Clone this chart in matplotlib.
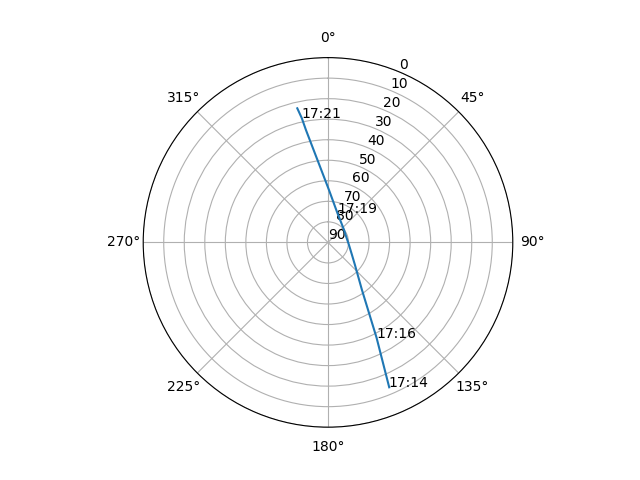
import numpy as np
import matplotlib
matplotlib.use("Agg")
import matplotlib.pyplot as plt

# pass track: azimuth (deg) and elevation (deg)
track_az = [157.1, 153.0, 144.5, 129.9, 117.7, 97.1, 75.2, 52.2, 30.3, 18.1, 1.1, 348.9, 348.1, 347.1]
track_el = [13.4, 37.9, 61.5, 72.9, 76.8, 79.7, 80.7, 80.1, 77.9, 75.1, 64.5, 34.2, 28.2, 23.0]

# time labels along the pass
label_times = ["17:14", "17:16", "17:19", "17:21"]
label_az = [157.3, 153.2, 18.1, 348.1]
label_el = [13.5, 38.0, 75.1, 28.2]

fig = plt.figure(figsize=(6.4, 4.8), dpi=100)
ax = fig.add_subplot(111, projection="polar")
ax.set_theta_zero_location("N")
ax.set_theta_direction(-1)

theta = np.radians(track_az)
r = 90 - np.array(track_el)
ax.plot(theta, r)

for t, az, el in zip(label_times, label_az, label_el):
    ax.text(np.radians(az), 90 - el, t)

ax.set_rlim(0, 90)
ax.set_yticks(range(0, 91, 10))
ax.set_yticklabels([str(90 - v) for v in range(0, 91, 10)])

fig.savefig("out.png")
